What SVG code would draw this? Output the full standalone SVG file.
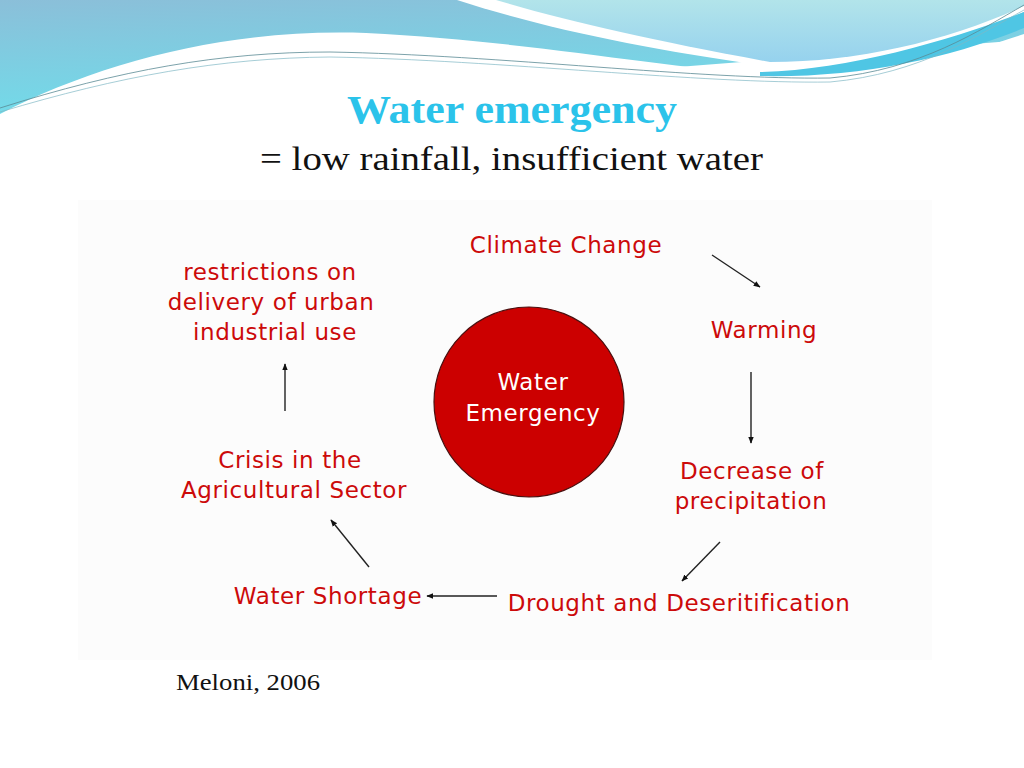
<svg xmlns="http://www.w3.org/2000/svg" width="1024" height="768" viewBox="0 0 1024 768">
<defs>
<linearGradient id="gl" x1="0" y1="0" x2="0.3" y2="1">
<stop offset="0" stop-color="#8bbfd9"/>
<stop offset="1" stop-color="#6fdeeb"/>
</linearGradient>
<linearGradient id="gr" x1="0" y1="0" x2="0" y2="1">
<stop offset="0" stop-color="#b2e4ea"/>
<stop offset="1" stop-color="#96d2ee"/>
</linearGradient>
<marker id="ah" viewBox="0 0 10 10" refX="9" refY="5" markerWidth="7" markerHeight="7" orient="auto" markerUnits="userSpaceOnUse">
<path d="M0,1 L10,5 L0,9 Z" fill="#111"/>
</marker>
<style>
.lbl{font-family:"DejaVu Sans",sans-serif;font-size:23px;letter-spacing:0.6px;fill:#cc0a0a;text-anchor:middle}
.wl{font-family:"DejaVu Sans",sans-serif;font-size:23px;letter-spacing:0.6px;fill:#ffffff;text-anchor:middle}
.arr{stroke:#222;stroke-width:1.4;fill:none;marker-end:url(#ah)}
</style>
</defs>
<rect width="1024" height="768" fill="#ffffff"/>
<g id="header">
<path d="M0,0 H1024 V40 L0,120 Z" fill="url(#gl)"/>
<path d="M0,114 C100,62 230,28 366,33 C550,42 700,76 817,76 C900,76 970,52 1024,34 V768 H0 Z" fill="#ffffff"/>
<path d="M457,0 H1024 V12 C950,45 870,68 780,68 C650,50 550,30 457,0 Z" fill="#ffffff"/>
<path d="M496,0 H1024 V6 C950,40 860,62 770,62 C650,40 570,22 496,0 Z" fill="url(#gr)"/>
<path d="M760,72 C850,70 950,40 1024,12 V28 C950,58 860,78 760,76 Z" fill="#4fc6e4"/>
<path d="M0,108 C120,70 220,52 330,52 C500,55 700,80 830,78 C920,70 980,30 1024,5" fill="none" stroke="#5a8a94" stroke-width="0.8"/>
<path d="M0,112 C120,76 220,58 330,57 C500,60 700,84 830,82 C920,74 980,34 1024,10" fill="none" stroke="#7fb8c4" stroke-width="0.7"/>
</g>
<g id="title">
<text x="347" y="123" font-family="Liberation Serif, serif" font-weight="bold" font-size="40" fill="#2bc3ea" textLength="330" lengthAdjust="spacingAndGlyphs">Water  emergency</text>
<text x="260" y="170" font-family="Liberation Serif, serif" font-size="34" fill="#111" textLength="503" lengthAdjust="spacingAndGlyphs">= low rainfall, insufficient water</text>
</g>
<rect x="78" y="200" width="854" height="460" fill="#fcfcfc"/>
<g id="center">
<circle cx="529" cy="402" r="95" fill="#cc0000" stroke="#4a1010" stroke-width="1.2"/>
<text class="wl" x="533" y="390">Water</text>
<text class="wl" x="533" y="421">Emergency</text>
</g>
<g id="n-climate"><text class="lbl" x="566" y="253">Climate Change</text></g>
<g id="n-warming"><text class="lbl" x="764" y="338">Warming</text></g>
<g id="n-decrease"><text class="lbl" x="752" y="479">Decrease of</text><text class="lbl" x="751" y="509">precipitation</text></g>
<g id="n-drought"><text class="lbl" x="679" y="611">Drought and Deseritification</text></g>
<g id="n-shortage"><text class="lbl" x="328" y="604">Water Shortage</text></g>
<g id="n-crisis"><text class="lbl" x="290" y="468">Crisis in the</text><text class="lbl" x="294" y="498">Agricultural Sector</text></g>
<g id="n-restrict"><text class="lbl" x="270" y="280">restrictions on</text><text class="lbl" x="271" y="310">delivery of urban</text><text class="lbl" x="275" y="340">industrial use</text></g>
<g id="connectors">
<line class="arr" x1="712" y1="255" x2="760" y2="287"/>
<line class="arr" x1="751" y1="372" x2="751" y2="443"/>
<line class="arr" x1="720" y1="542" x2="682" y2="581"/>
<line class="arr" x1="497" y1="596" x2="427" y2="596"/>
<line class="arr" x1="369" y1="567" x2="331" y2="520"/>
<line class="arr" x1="285" y1="411" x2="285" y2="364"/>
</g>
<text x="176" y="690" font-family="Liberation Serif, serif" font-size="24" fill="#111" textLength="144" lengthAdjust="spacingAndGlyphs">Meloni, 2006</text>
</svg>
